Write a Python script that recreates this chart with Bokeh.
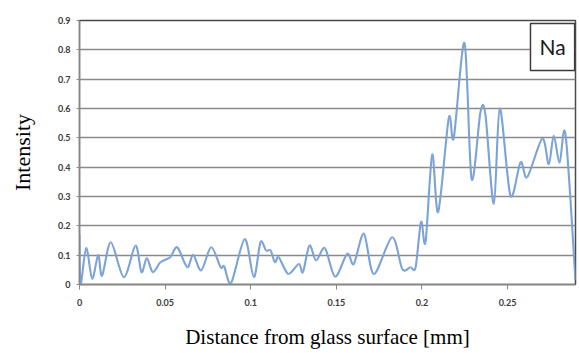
from bokeh.plotting import figure
from bokeh.models import Range1d, Label, FixedTicker, ColumnDataSource
from bokeh.embed import file_html
from bokeh.resources import INLINE

# ---- data ----
distance = [0, 0.0006, 0.0039, 0.0074, 0.0109, 0.0132, 0.0183, 0.0259, 0.0327, 0.0362,
            0.0393, 0.0428, 0.0473, 0.053, 0.0571, 0.0629, 0.0664, 0.0711, 0.0769, 0.0824,
            0.0845, 0.0886, 0.0965, 0.1018, 0.1057, 0.109, 0.1116, 0.1141, 0.1164, 0.1219,
            0.1281, 0.1305, 0.1343, 0.1382, 0.1433, 0.1493, 0.1564, 0.1602, 0.1661, 0.1719,
            0.1826, 0.1885, 0.1933, 0.1963, 0.1995, 0.2021, 0.206, 0.2095, 0.2157, 0.2186,
            0.2249, 0.229, 0.2342, 0.2371, 0.242, 0.2455, 0.2517, 0.2576, 0.2615, 0.2703,
            0.2741, 0.277, 0.2804, 0.2839, 0.2897]
intensity = [0.17, 0.0, 0.124, 0.02, 0.10, 0.03, 0.144, 0.025, 0.133, 0.042,
             0.09, 0.042, 0.076, 0.093, 0.127, 0.059, 0.101, 0.048, 0.127, 0.059,
             0.062, 0.006, 0.155, 0.025, 0.144, 0.116, 0.116, 0.076, 0.093, 0.036,
             0.07, 0.042, 0.133, 0.082, 0.124, 0.027, 0.105, 0.07, 0.173, 0.036,
             0.161, 0.053, 0.059, 0.059, 0.214, 0.144, 0.443, 0.247, 0.568, 0.50,
             0.823, 0.36, 0.588, 0.578, 0.275, 0.6, 0.303, 0.417, 0.366, 0.497,
             0.41, 0.508, 0.414, 0.511, 0.014]
x_ticks = [0, 0.05, 0.1, 0.15, 0.2, 0.25]
x_tick_labels = ["0", "0.05", "0.1", "0.15", "0.2", "0.25"]
y_ticks = [0, 0.1, 0.2, 0.3, 0.4, 0.5, 0.6, 0.7, 0.8, 0.9]
y_tick_labels = ["0", "0.1", "0.2", "0.3", "0.4", "0.5", "0.6", "0.7", "0.8", "0.9"]
element = "Na"

# ---- smoothed line rendering (Catmull-Rom -> cubic Bezier) ----
t = 0.15
n = len(distance)
seg = dict(x0=[], y0=[], x1=[], y1=[], cx0=[], cy0=[], cx1=[], cy1=[])
for i in range(n - 1):
    a = max(i - 1, 0)
    d = min(i + 2, n - 1)
    px0, py0 = distance[i], intensity[i]
    px1, py1 = distance[i + 1], intensity[i + 1]
    seg["x0"].append(px0); seg["y0"].append(py0)
    seg["x1"].append(px1); seg["y1"].append(py1)
    seg["cx0"].append(px0 + (px1 - distance[a]) * t)
    seg["cy0"].append(py0 + (py1 - intensity[a]) * t)
    seg["cx1"].append(px1 - (distance[d] - px0) * t)
    seg["cy1"].append(py1 - (intensity[d] - py0) * t)
src = ColumnDataSource(seg)

p = figure(width=579, height=353, output_backend="svg", toolbar_location=None,
           x_range=Range1d(0, distance[-1]), y_range=Range1d(0, 0.9),
           min_border_left=79, min_border_right=4, min_border_top=20, min_border_bottom=69)
p.background_fill_color = "white"
p.border_fill_color = "white"
p.outline_line_color = "#4a4a4a"
p.outline_line_width = 1.5

p.bezier(x0="x0", y0="y0", x1="x1", y1="y1", cx0="cx0", cy0="cy0", cx1="cx1", cy1="cy1",
         source=src, line_color="#7ba3d6", line_width=2.1)

p.xgrid.grid_line_color = None
p.ygrid.grid_line_color = "#8a8a8a"
p.ygrid.grid_line_width = 1.6

for ax, ticks, labels in ((p.xaxis[0], x_ticks, x_tick_labels), (p.yaxis[0], y_ticks, y_tick_labels)):
    ax.ticker = FixedTicker(ticks=ticks)
    ax.major_label_overrides = {tk: lb for tk, lb in zip(ticks, labels)}
    ax.minor_tick_line_color = None
    ax.major_tick_in = 0
    ax.axis_line_color = "#888888"
    ax.axis_line_width = 1.3
    ax.major_tick_line_color = "#888888"
    ax.major_label_text_font = "Lato"
    ax.major_label_text_font_style = "bold"
    ax.major_label_text_font_size = "9px"
    ax.major_label_text_color = "#3a3a3a"
    ax.axis_label_text_font = "Liberation Serif"
    ax.axis_label_text_font_style = "normal"
    ax.axis_label_text_color = "#000000"

p.xaxis.major_tick_out = 5
p.xaxis.major_label_standoff = 9
p.xaxis.axis_label = "Distance from glass surface [mm]"
p.xaxis.axis_label_text_font_size = "21px"
p.xaxis.axis_label_standoff = 16

p.yaxis.major_tick_out = 3
p.yaxis.major_label_standoff = 6
p.yaxis.axis_label = "Intensity"
p.yaxis.axis_label_text_font_size = "22px"
p.yaxis.axis_label_standoff = 20

p.add_layout(Label(x=0.2763, y=0.81, text=element, text_font="Lato",
                   text_font_size="21px", text_color="#1a1a1a",
                   text_align="center", text_baseline="middle",
                   border_line_color="#3c3c3c", border_line_width=1.5,
                   background_fill_color="white",
                   padding=dict(left=9, right=9, top=11, bottom=11)))

open("out.html", "w").write(file_html(p, INLINE))
